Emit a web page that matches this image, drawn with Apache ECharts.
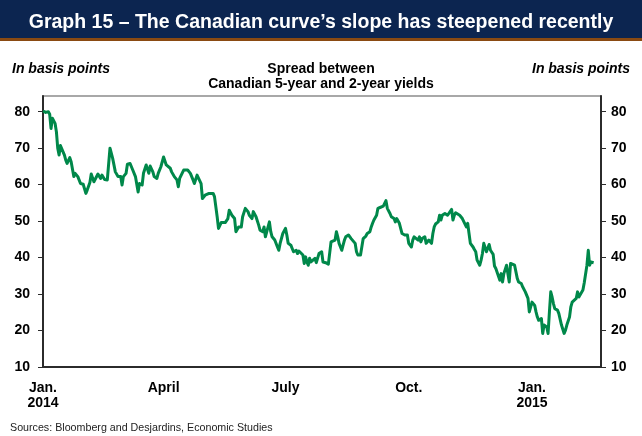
<!DOCTYPE html>
<html>
<head>
<meta charset="utf-8">
<script src="https://cdn.jsdelivr.net/npm/echarts@6/dist/echarts.min.js"></script>
<style>
  html, body { margin: 0; padding: 0; background: #ffffff; }
  #chart { width: 642px; height: 436px; }
</style>
</head>
<body>
<div id="chart"></div>
<script>
// Observation dates, as days counted from 1 January 2014
const obsDay = [
  0, 2, 4, 5, 6, 7, 8, 9, 10, 11, 12, 13, 14, 16, 17, 18, 20, 21, 23, 24, 26, 27, 28, 30, 32, 33, 35, 36, 38, 39,
  41, 42, 43, 44, 46, 47, 48, 50, 52, 53, 54, 56, 58, 59, 60, 62, 63,
  65, 67, 69, 71, 72, 74, 75, 77, 78, 79, 80, 82, 83, 85, 86, 87, 88, 90, 91, 92, 93, 95, 96, 98, 100, 101, 102, 103,
  105, 106, 108, 110, 111, 112, 113, 115, 116, 118, 119, 121, 122, 124, 127, 128, 129, 130, 131,
  133, 134, 136, 138, 139, 141, 142, 143, 144, 146, 147, 148, 149, 151, 152, 153, 154, 156, 157, 158, 159, 161, 162,
  164, 165, 166, 167, 169, 170, 171, 172, 173, 175, 176, 177, 179, 180, 181, 182, 183, 185, 186, 187, 189, 190, 191,
  192, 194, 195, 196, 197, 198,
  199, 200, 201, 203, 204, 205, 206, 208, 209, 211, 213, 214, 215, 216, 218, 219, 220, 221, 223, 224, 225, 226, 228,
  229, 230, 231, 233, 234, 235, 236, 237, 239, 240, 241, 242, 244, 245, 246, 247, 249, 250, 252, 254, 255, 256, 257,
  259, 260, 262, 263, 264, 266,
  267, 268, 270, 271, 272, 273, 275, 276, 277, 278, 280, 281, 282, 283, 285, 286, 287, 288, 290, 291, 292, 293, 295,
  296, 297, 298, 300, 301, 302, 303, 305, 306, 307, 308, 309, 311, 312, 313, 314, 316, 317, 318, 319, 321, 322, 323,
  324, 326, 327, 328, 329, 331, 332, 333, 334, 336, 337,
  338, 341, 342, 343, 344, 346, 348, 349, 350, 352, 353, 354, 355, 357, 358, 359, 360, 362, 363, 364, 365, 367, 368,
  369, 370, 372, 373, 374, 375, 376, 377, 378, 379, 380, 381, 382, 384, 385, 386, 387, 389, 390, 391, 393, 394, 395,
  396, 398, 399, 400, 401, 403, 404, 405, 406, 407, 408, 409, 411
];

// Canadian 5-year minus 2-year yield spread, basis points
const spreadBp = [
  80.2, 79.8, 80, 79.3, 75.4, 78.2, 77.7, 76.8, 74.5, 70, 68.1, 70.7, 70.4, 68.1, 66.7, 65.8, 67.4, 66.3, 62.2, 63.1, 62.2, 62.6, 60.3, 60.1, 57.6, 58.5, 60.6, 62.9, 60.8, 61.3,
  62.9, 62.4, 61.7, 62.6, 61.4, 61.7, 61.3, 70, 67.2, 67.2, 63.5, 62.2, 62.2, 59.9, 62.2, 63.1, 65.6,
  65.8, 64, 62.2, 58, 60.3, 59.9, 63.1, 65.4, 64.9, 63.1, 65.1, 63.5, 62.2, 61.7, 63.1, 63.5, 64.9, 67.6, 68.1, 65.4, 64.9, 64.5, 63.5, 62.2, 61.3, 59.4, 61.7, 61.3,
  64, 64.2, 64, 63.1, 62.6, 61.3, 60.3, 62.6, 62.2, 60.3, 56.2, 57.1, 57.6, 57.6, 57.6, 56.7, 56.2, 51.2, 48,
  49.6, 49.4, 49.6, 50.7, 53, 51.6, 52.1, 50.7, 47.1, 48.4, 48, 48.4, 51.2, 53.5, 53.9, 52.6, 51.6, 50.7, 52.6, 53, 51.2, 48.9, 47.5,
  47.1, 48.4, 45.7, 45.2, 49.8, 47.1, 45.7, 45.7, 44.8, 42.9, 42, 43.9, 46.6, 46.6, 48, 46.2, 43.9, 43.4, 42.5, 41.6, 42, 41.1, 41.8,
  41.6, 40.7, 38.4, 40.2, 38.8, 37.9,
  39.8, 38.8, 39.3, 39.8, 38.6, 38.8, 41.1, 41.6, 38.8, 38.6, 38.2, 37.9, 44.3, 43.9, 44.8, 47.1, 45.7, 43.9, 42, 43.4, 44.8, 45.7, 46.2,
  45.7, 45.2, 44.8, 43.9, 41.6, 40.7, 40.4, 40.7, 45.2, 45.7, 45.9, 46.6, 47.1, 48.4, 49.4, 50.3, 51.6, 53.5, 53.8, 54.1, 54.4, 55.6, 53.5,
  52.1, 51.2, 50.7, 49.8, 50.7, 49.4,
  48.9, 46.6, 46.2, 46.6, 46.2, 43.9, 42.9, 44.8, 45.7, 45.7, 44.8, 45.7, 44.3, 45.2, 45.7, 43.9, 43.4, 44.8, 43.9, 46.6, 48.4, 49.2, 49.8,
  51.6, 50.3, 51.6, 52.1, 52.6, 51.6, 52.1, 53.2, 50.3, 51.6, 52.3, 52.6, 51.6, 51.2, 50.7, 50.3, 48.4, 49.4, 46.6, 43.9, 42.9, 42.2, 41.6,
  39.3, 37.9, 39.3, 41.1, 43.9, 41.6, 41.1, 43.6, 42, 40.9, 37.7,
  37, 33.8, 35.6, 33.3, 35.6, 37.9, 33.3, 38.4, 38.2, 37.9, 37.5, 34.3, 33.3, 32.9, 32, 32, 30.6, 28.8, 25.1, 25.6, 27.8, 26.9, 25.1,
  23.7, 22.8, 23.3, 19.2, 21.5, 21.5, 21, 19.2, 25.1, 30.6, 29.2, 27.4, 26, 25.6, 24.7, 24.5, 21.5, 19.2, 20.1, 21.5, 23.7, 26.5, 27.8,
  27.4, 28.8, 30.6, 29.2, 29.7, 31.1, 33.1, 33.3, 37.9, 42, 37.9, 38.8, 38.6
];

// Date axis labels (days from 1 January 2014) and value axis ticks
const xLabelDay = [0, 90, 181, 273, 365];
const xLabelText = ['Jan.\n2014', 'April', 'July', 'Oct.', 'Jan.\n2015'];
const yTicks = [10, 20, 30, 40, 50, 60, 70, 80];
const yRange = [10, 84.3];
const xRangeDay = [0, 416.5];

const FONT = '"Liberation Sans", Arial, Helvetica, sans-serif';

const labelByDay = {};
xLabelDay.forEach((d, i) => { labelByDay[d] = xLabelText[i]; });

const seriesData = obsDay.map((d, i) => [d, spreadBp[i]]);

function valueAxis(side) {
  return {
    type: 'value',
    position: side,
    min: yRange[0],
    max: yRange[1],
    axisLine: { show: true, onZero: false, lineStyle: { color: '#2b2b2b', width: 2 } },
    axisTick: { show: true, inside: false, length: 5, customValues: yTicks, lineStyle: { color: '#2b2b2b', width: 1 } },
    axisLabel: {
      customValues: yTicks,
      margin: side === 'left' ? 13 : 10,
      color: '#000',
      fontFamily: FONT,
      fontWeight: 'bold',
      fontSize: 14
    },
    splitLine: { show: false }
  };
}

const chart = echarts.init(document.getElementById('chart'), null, { renderer: 'canvas' });

const headText = { color: '#000', fontFamily: FONT, fontWeight: 'bold', fontSize: 14 };

chart.setOption({
  animation: false,
  backgroundColor: '#ffffff',
  graphic: [
    { type: 'rect', z: 0, shape: { x: 0, y: 0, width: 642, height: 38 }, style: { fill: '#0c2550' } },
    { type: 'rect', z: 0, shape: { x: 0, y: 38, width: 642, height: 3 }, style: { fill: '#8a4a12' } }
  ],
  title: [
    {
      text: 'Graph 15 – The Canadian curve’s slope has steepened recently',
      left: 'center', top: 13, padding: 0, z: 10,
      textStyle: { color: '#ffffff', fontFamily: FONT, fontWeight: 'bold', fontSize: 19.5 }
    },
    {
      text: 'In basis points', left: 12, top: 62, padding: 0,
      textStyle: Object.assign({}, headText, { fontStyle: 'italic' })
    },
    {
      text: 'In basis points', right: 12, top: 62, padding: 0,
      textStyle: Object.assign({}, headText, { fontStyle: 'italic' })
    },
    {
      text: 'Spread between\nCanadian 5-year and 2-year yields',
      left: 321, top: 62, padding: 0, textAlign: 'center',
      textStyle: Object.assign({}, headText, { lineHeight: 15 })
    },
    {
      text: 'Sources: Bloomberg and Desjardins, Economic Studies',
      left: 10, top: 423, padding: 0,
      textStyle: { color: '#222', fontFamily: FONT, fontWeight: 'normal', fontSize: 10.7 }
    }
  ],
  grid: {
    left: 43, right: 41, top: 96, bottom: 69,
    show: true, borderColor: '#8c8c8c', borderWidth: 1.5, backgroundColor: 'transparent'
  },
  xAxis: {
    type: 'value',
    min: xRangeDay[0],
    max: xRangeDay[1],
    axisLine: { show: true, onZero: false, lineStyle: { color: '#2b2b2b', width: 2 } },
    axisTick: { show: false },
    splitLine: { show: false },
    axisLabel: {
      customValues: xLabelDay,
      formatter: v => labelByDay[v] || '',
      margin: 14,
      color: '#000',
      fontFamily: FONT,
      fontWeight: 'bold',
      fontSize: 14,
      lineHeight: 15
    }
  },
  yAxis: [valueAxis('left'), valueAxis('right')],
  series: [
    {
      type: 'line',
      data: seriesData,
      yAxisIndex: 0,
      showSymbol: false,
      symbol: 'none',
      lineStyle: { color: '#00884a', width: 3, join: 'round' },
      z: 3
    }
  ]
});
</script>
</body>
</html>
